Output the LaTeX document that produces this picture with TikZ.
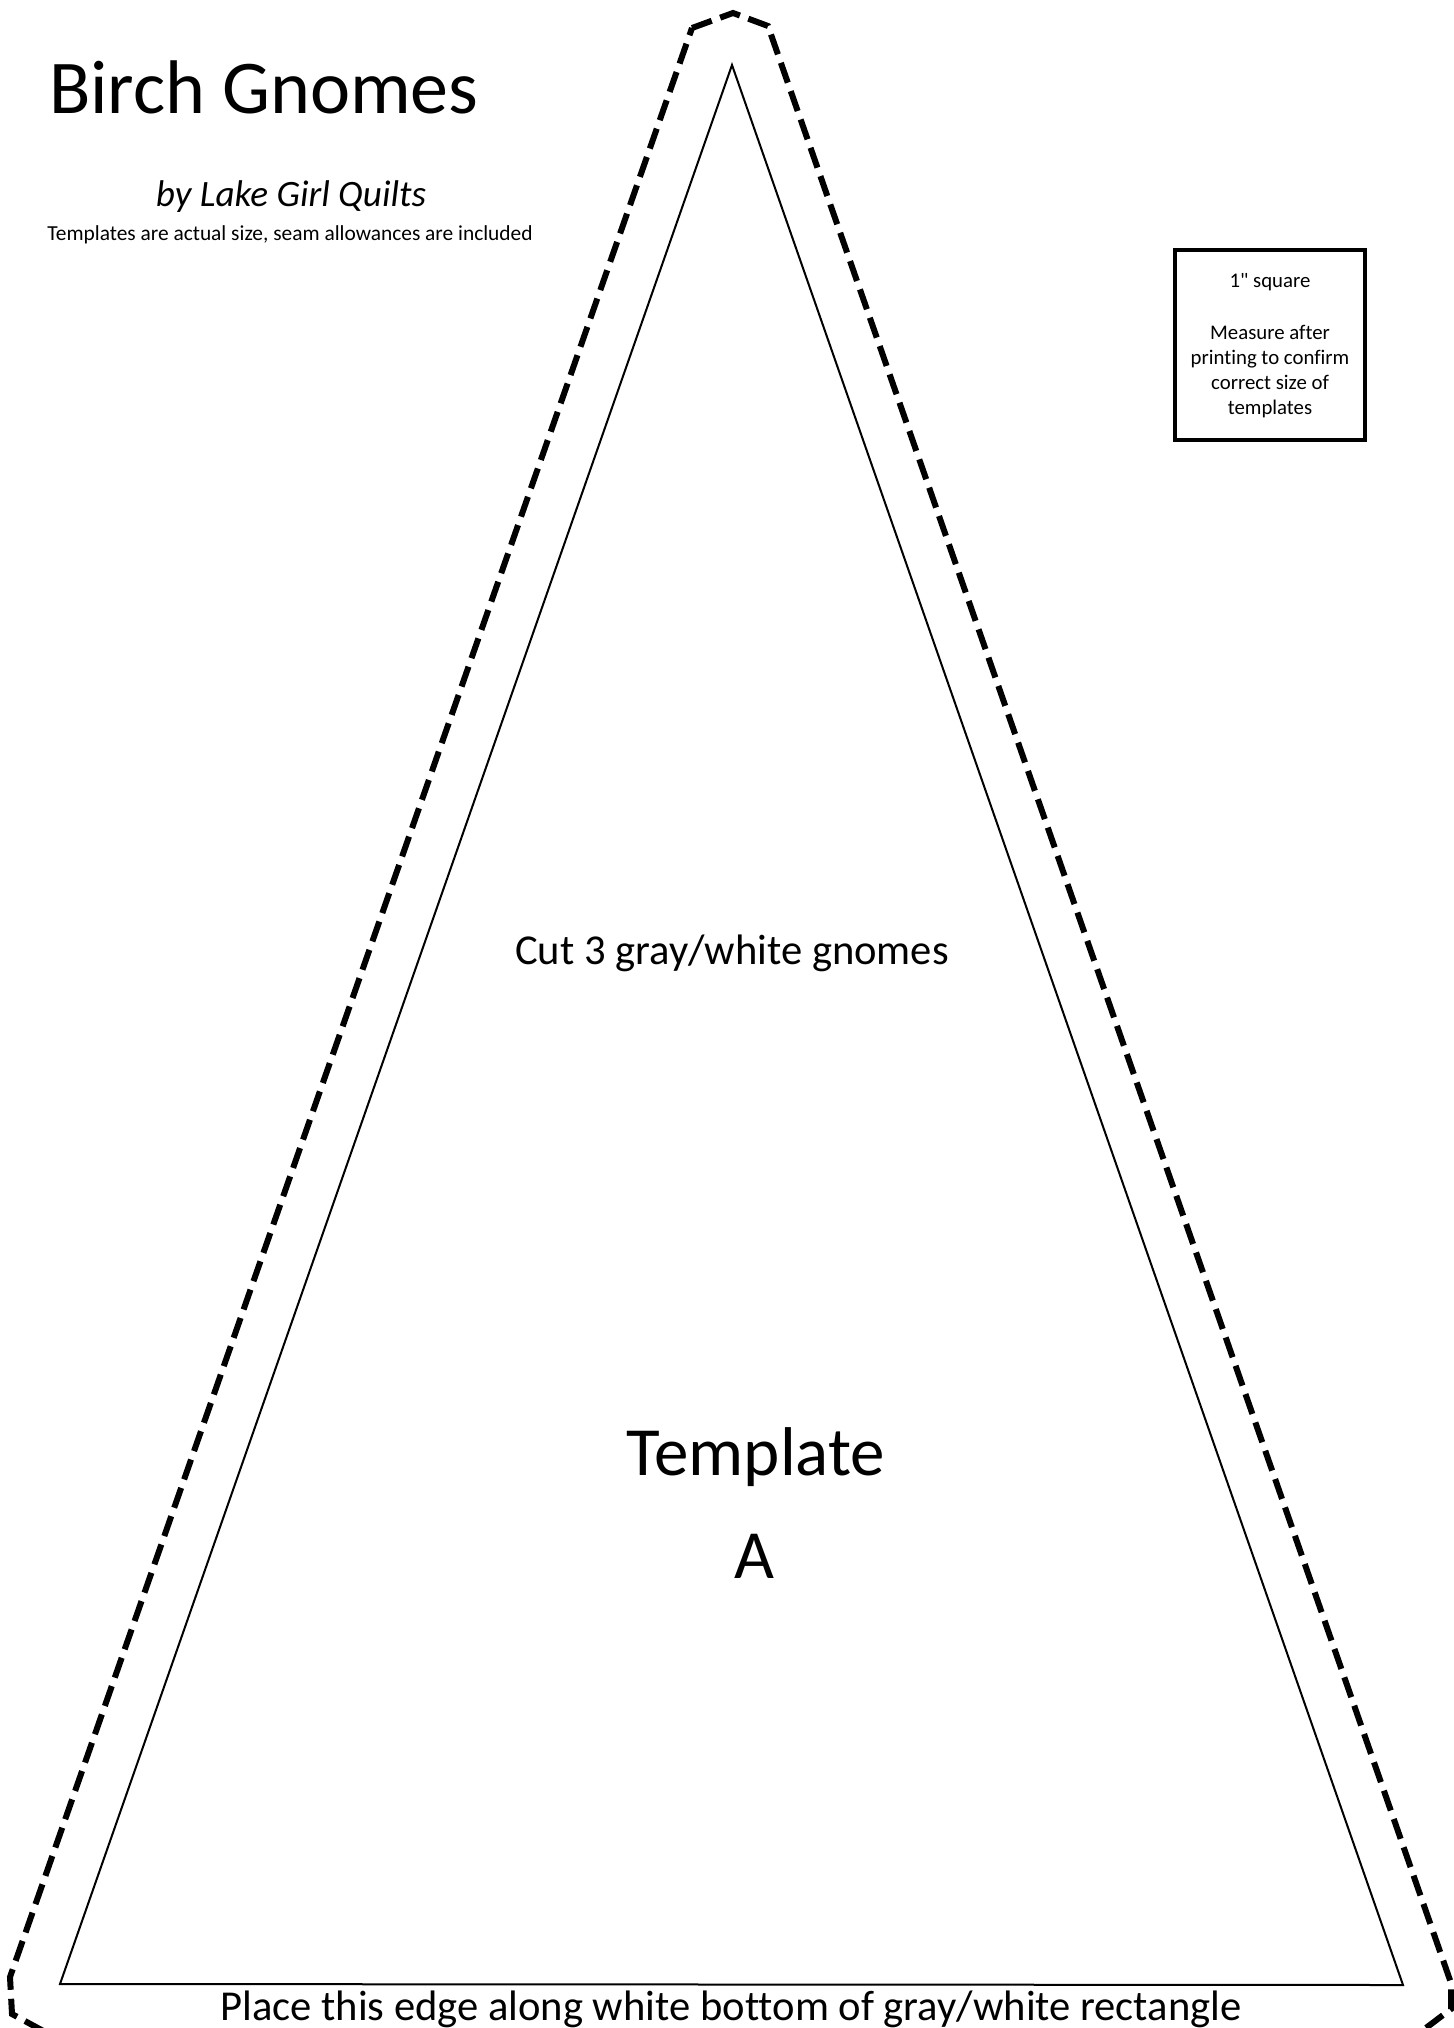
\documentclass[tikz,border=0pt]{standalone}
\usepackage{fontspec}
\setmainfont{Carlito}[Ligatures={TeXOff,NoCommon}]
\tikzset{
  txt/.style={inner sep=0pt, outer sep=0pt, anchor=base},
  cutline/.style={line width=3pt, dash pattern=on 10.5pt off 4.5pt},
  seamline/.style={line width=1pt, line join=miter},
  squarebox/.style={line width=1.6pt}
}
\begin{document}
\begin{tikzpicture}[x=0.5pt,y=-0.5pt]
\useasboundingbox (0,0) rectangle (1454,2028);
\begin{scope}
\clip (0,0) rectangle (1454,2028);
% dashed cutting line
\draw[cutline] (692,28) -- (733,13) -- (768,26) -- (1451,1983) -- (1451,2009) -- (1410,2040) -- (60,2040) -- (12,2014) -- (10,1977) -- cycle;
\end{scope}
% seam line (template)
\coordinate (apex) at (732,65);
\coordinate (bl) at (60,1984);
\coordinate (br) at (1403,1985);
\draw[seamline] (apex) -- (br) -- (bl) -- cycle;
% 1 inch square
\draw[squarebox] (1175,250) rectangle (1365,440);
\node[txt] (sq1) at (1270,287) {\fontsize{10.4}{12.5}\selectfont 1" square};
\node[txt] (sq2) at (1270,339) {\fontsize{10.4}{12.5}\selectfont Measure after};
\node[txt] (sq3) at (1270,364) {\fontsize{10.4}{12.5}\selectfont printing to confirm};
\node[txt] (sq4) at (1270,389) {\fontsize{10.4}{12.5}\selectfont correct size of};
\node[txt] (sq5) at (1270,414) {\fontsize{10.4}{12.5}\selectfont templates};
% titles
\node[txt, anchor=base west] (title) at (49,114) {\fontsize{38}{44}\selectfont Birch Gnomes};
\node[txt] (by) at (291,207) {\fontsize{18.6}{22}\selectfont\itshape by Lake Girl Quilts};
\node[txt] (note) at (290,241) {\fontsize{10.7}{13}\selectfont Templates are actual size, seam allowances are included};
% template texts
\node[txt] (cut) at (732,964) {\fontsize{21.3}{25}\selectfont Cut 3 gray/white gnomes};
\node[txt] (tmpl) at (756,1475) {\fontsize{34.5}{40}\selectfont Template};
\node[txt] (tmplA) at (754,1578) {\fontsize{34.5}{40}\selectfont A};
\node[txt] (place) at (731,2020) {\fontsize{21.3}{25}\selectfont Place this edge along white bottom of gray/white rectangle};
\end{tikzpicture}
\end{document}
